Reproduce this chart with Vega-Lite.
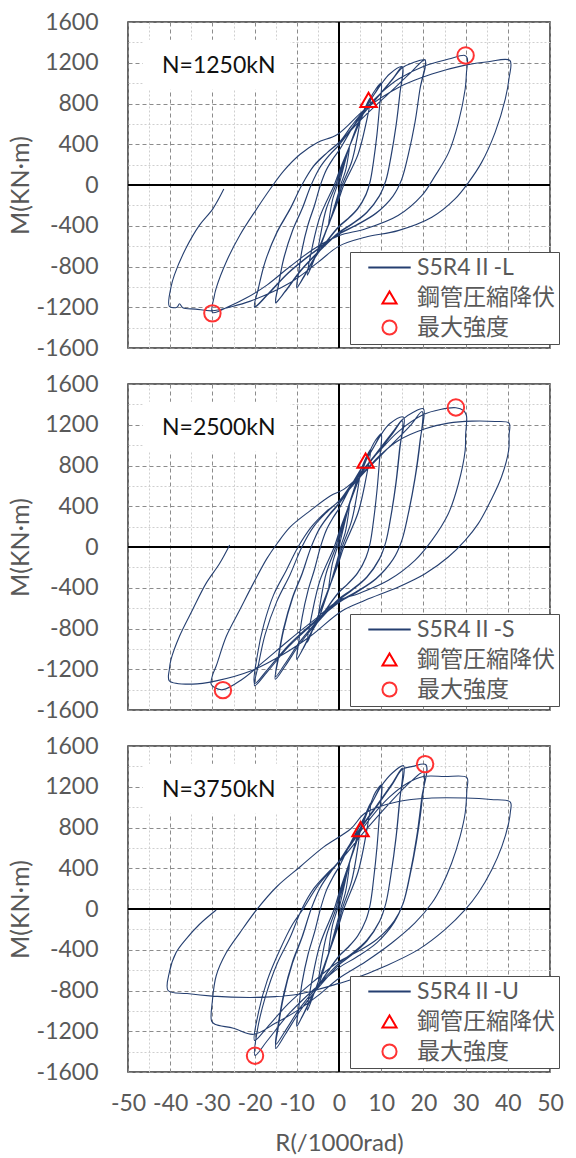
{
"$schema":"https://vega.github.io/schema/vega-lite/v6.json",
"padding":{"left":7,"top":10,"right":0,"bottom":2},
"config":{"view":{"stroke":"#333333","strokeWidth":1.5},"font":"Lato"},
"datasets":{
"p1":[{"x":0,"y":0},{"x":1.2,"y":190},{"x":2.5,"y":380},{"x":2.13,"y":266},{"x":1.5,"y":133},{"x":0.38,"y":0},{"x":0,"y":-60},{"x":-1,"y":-200},{"x":-1.88,"y":-320},{"x":-2.5,"y":-400},{"x":-2.13,"y":-280},{"x":-1.5,"y":-140},{"x":-0.38,"y":0},{"x":0,"y":57},{"x":1,"y":190},{"x":1.88,"y":304},{"x":2.5,"y":380},{"x":3.8,"y":530},{"x":5,"y":650},{"x":4.25,"y":455},{"x":3,"y":228},{"x":0.75,"y":0},{"x":0,"y":-99},{"x":-2,"y":-330},{"x":-3.75,"y":-528},{"x":-5,"y":-660},{"x":-4.25,"y":-462},{"x":-3,"y":-231},{"x":-0.75,"y":0},{"x":0,"y":98},{"x":2,"y":325},{"x":3.75,"y":520},{"x":5,"y":650},{"x":4.25,"y":450},{"x":3,"y":225},{"x":0.75,"y":0},{"x":0,"y":-100},{"x":-2,"y":-335},{"x":-3.75,"y":-530},{"x":-5,"y":-665},{"x":-4.25,"y":-465},{"x":-3,"y":-233},{"x":-0.75,"y":0},{"x":0,"y":97},{"x":2,"y":322},{"x":3.75,"y":518},{"x":5,"y":648},{"x":6.3,"y":770},{"x":7.5,"y":860},{"x":6.38,"y":602},{"x":4.5,"y":301},{"x":1.13,"y":0},{"x":0,"y":-132},{"x":-3,"y":-440},{"x":-5.63,"y":-704},{"x":-7.5,"y":-880},{"x":-6.38,"y":-616},{"x":-4.5,"y":-308},{"x":-1.13,"y":0},{"x":0,"y":129},{"x":3,"y":430},{"x":5.63,"y":688},{"x":7.5,"y":860},{"x":6.38,"y":598},{"x":4.5,"y":298},{"x":1.13,"y":0},{"x":0,"y":-134},{"x":-3,"y":-445},{"x":-5.63,"y":-708},{"x":-7.5,"y":-885},{"x":-6.38,"y":-620},{"x":-4.5,"y":-310},{"x":-1.13,"y":0},{"x":0,"y":127},{"x":3,"y":428},{"x":5.63,"y":686},{"x":7.5,"y":858},{"x":8.7,"y":940},{"x":10,"y":1000},{"x":9.6,"y":770},{"x":9,"y":500},{"x":8.2,"y":240},{"x":7.4,"y":40},{"x":6.4,"y":-91},{"x":4.4,"y":-232},{"x":2,"y":-333},{"x":0,"y":-404},{"x":-3,"y":-556},{"x":-6,"y":-727},{"x":-8.5,"y":-909},{"x":-10,"y":-1010},{"x":-9.55,"y":-859},{"x":-8.75,"y":-636},{"x":-7.35,"y":-394},{"x":-5.8,"y":-202},{"x":-4.4,"y":0},{"x":-3,"y":150},{"x":-1.4,"y":260},{"x":0,"y":340},{"x":3,"y":550},{"x":6,"y":740},{"x":8.5,"y":900},{"x":10,"y":995},{"x":9.6,"y":765},{"x":9,"y":495},{"x":8.2,"y":235},{"x":7.4,"y":35},{"x":6.4,"y":-95},{"x":4.4,"y":-236},{"x":2,"y":-338},{"x":0,"y":-410},{"x":-3,"y":-562},{"x":-6,"y":-733},{"x":-8.5,"y":-915},{"x":-10,"y":-1005},{"x":-9.55,"y":-855},{"x":-8.75,"y":-632},{"x":-7.35,"y":-390},{"x":-5.8,"y":-198},{"x":-4.4,"y":0},{"x":-3,"y":148},{"x":-1.4,"y":258},{"x":0,"y":338},{"x":3,"y":548},{"x":6,"y":738},{"x":8.5,"y":898},{"x":10,"y":990},{"x":12,"y":1090},{"x":15,"y":1160},{"x":14.4,"y":893},{"x":13.5,"y":580},{"x":12.3,"y":278},{"x":11.1,"y":46},{"x":9.6,"y":-104},{"x":6.6,"y":-266},{"x":3,"y":-382},{"x":0,"y":-463},{"x":-4.5,"y":-637},{"x":-9,"y":-834},{"x":-12.75,"y":-1042},{"x":-15,"y":-1158},{"x":-14.33,"y":-984},{"x":-13.13,"y":-730},{"x":-11.03,"y":-452},{"x":-8.7,"y":-232},{"x":-6.6,"y":0},{"x":-4.5,"y":174},{"x":-2.1,"y":302},{"x":0,"y":394},{"x":4.5,"y":638},{"x":9,"y":858},{"x":12.75,"y":1044},{"x":15,"y":1160},{"x":14.4,"y":885},{"x":13.5,"y":575},{"x":12.3,"y":272},{"x":11.1,"y":40},{"x":9.6,"y":-108},{"x":6.6,"y":-270},{"x":3,"y":-388},{"x":0,"y":-470},{"x":-4.5,"y":-645},{"x":-9,"y":-840},{"x":-12.75,"y":-1048},{"x":-15,"y":-1150},{"x":-14.33,"y":-978},{"x":-13.13,"y":-725},{"x":-11.03,"y":-448},{"x":-8.7,"y":-228},{"x":-6.6,"y":0},{"x":-4.5,"y":172},{"x":-2.1,"y":300},{"x":0,"y":392},{"x":4.5,"y":635},{"x":9,"y":855},{"x":12.75,"y":1040},{"x":15,"y":1150},{"x":17.5,"y":1200},{"x":20.4,"y":1225},{"x":19.2,"y":943},{"x":18,"y":613},{"x":16.4,"y":294},{"x":14.8,"y":49},{"x":12.8,"y":-108},{"x":8.8,"y":-275},{"x":4,"y":-394},{"x":0,"y":-478},{"x":-6,"y":-657},{"x":-12,"y":-860},{"x":-17,"y":-1076},{"x":-20,"y":-1195},{"x":-19.1,"y":-1016},{"x":-17.5,"y":-753},{"x":-14.7,"y":-466},{"x":-11.6,"y":-239},{"x":-8.8,"y":0},{"x":-6,"y":184},{"x":-2.8,"y":318},{"x":0,"y":417},{"x":6,"y":674},{"x":12,"y":907},{"x":17,"y":1103},{"x":20.4,"y":1230},{"x":19.2,"y":946},{"x":18,"y":615},{"x":16.4,"y":295},{"x":14.8,"y":50},{"x":12.8,"y":-110},{"x":8.8,"y":-278},{"x":4,"y":-398},{"x":0,"y":-482},{"x":-6,"y":-662},{"x":-12,"y":-865},{"x":-17,"y":-1082},{"x":-20,"y":-1200},{"x":-19.1,"y":-1012},{"x":-17.5,"y":-753},{"x":-14.7,"y":-461},{"x":-11.6,"y":-234},{"x":-8.8,"y":0},{"x":-6,"y":188},{"x":-2.8,"y":318},{"x":0,"y":415},{"x":3,"y":582},{"x":6.2,"y":745},{"x":10.1,"y":909},{"x":14.1,"y":1040},{"x":20.4,"y":1170},{"x":26,"y":1236},{"x":29.8,"y":1272},{"x":30.4,"y":1245},{"x":30.2,"y":1100},{"x":29.9,"y":942},{"x":28.3,"y":615},{"x":26,"y":320},{"x":22.8,"y":92},{"x":19.6,"y":-105},{"x":14,"y":-300},{"x":6.2,"y":-432},{"x":0,"y":-497},{"x":-5.7,"y":-620},{"x":-11.6,"y":-800},{"x":-17,"y":-980},{"x":-22,"y":-1110},{"x":-26,"y":-1190},{"x":-30,"y":-1250},{"x":-29.6,"y":-1100},{"x":-29.1,"y":-1012},{"x":-26.7,"y":-753},{"x":-23.5,"y":-493},{"x":-19.5,"y":-234},{"x":-16.3,"y":-39},{"x":-13.1,"y":139},{"x":-9.2,"y":302},{"x":-5.2,"y":415},{"x":-0.4,"y":496},{"x":6.2,"y":745},{"x":14.1,"y":958},{"x":22,"y":1089},{"x":29.9,"y":1177},{"x":35.4,"y":1210},{"x":40.5,"y":1222},{"x":40.3,"y":1050},{"x":39.4,"y":844},{"x":37,"y":517},{"x":33.8,"y":222},{"x":30.7,"y":26},{"x":27.5,"y":-137},{"x":22,"y":-317},{"x":14,"y":-448},{"x":6.2,"y":-513},{"x":0,"y":-600},{"x":-5,"y":-760},{"x":-11.6,"y":-960},{"x":-21,"y":-1140},{"x":-26,"y":-1200},{"x":-30,"y":-1235},{"x":-34,"y":-1218},{"x":-37,"y":-1205},{"x":-37.8,"y":-1165},{"x":-38.4,"y":-1200},{"x":-40.2,"y":-1192},{"x":-39.8,"y":-1000},{"x":-39,"y":-882},{"x":-36.3,"y":-623},{"x":-33.1,"y":-396},{"x":-29.9,"y":-234},{"x":-27.3,"y":-40}],
"p2":[{"x":0,"y":0},{"x":1.2,"y":210},{"x":2.5,"y":420},{"x":2.13,"y":294},{"x":1.5,"y":147},{"x":0.38,"y":0},{"x":0,"y":-65},{"x":-1,"y":-215},{"x":-1.88,"y":-344},{"x":-2.5,"y":-430},{"x":-2.13,"y":-301},{"x":-1.5,"y":-151},{"x":-0.38,"y":0},{"x":0,"y":63},{"x":1,"y":210},{"x":1.88,"y":336},{"x":2.5,"y":420},{"x":3.8,"y":590},{"x":5,"y":740},{"x":4.25,"y":518},{"x":3,"y":259},{"x":0.75,"y":0},{"x":0,"y":-108},{"x":-2,"y":-360},{"x":-3.75,"y":-576},{"x":-5,"y":-720},{"x":-4.25,"y":-504},{"x":-3,"y":-252},{"x":-0.75,"y":0},{"x":0,"y":111},{"x":2,"y":370},{"x":3.75,"y":592},{"x":5,"y":740},{"x":4.25,"y":514},{"x":3,"y":256},{"x":0.75,"y":0},{"x":0,"y":-110},{"x":-2,"y":-364},{"x":-3.75,"y":-580},{"x":-5,"y":-725},{"x":-4.25,"y":-508},{"x":-3,"y":-254},{"x":-0.75,"y":0},{"x":0,"y":110},{"x":2,"y":368},{"x":3.75,"y":590},{"x":5,"y":738},{"x":6.3,"y":870},{"x":7.5,"y":960},{"x":6.38,"y":672},{"x":4.5,"y":336},{"x":1.13,"y":0},{"x":0,"y":-140},{"x":-3,"y":-465},{"x":-5.63,"y":-744},{"x":-7.5,"y":-930},{"x":-6.38,"y":-651},{"x":-4.5,"y":-326},{"x":-1.13,"y":0},{"x":0,"y":144},{"x":3,"y":480},{"x":5.63,"y":768},{"x":7.5,"y":960},{"x":6.38,"y":668},{"x":4.5,"y":333},{"x":1.13,"y":0},{"x":0,"y":-142},{"x":-3,"y":-470},{"x":-5.63,"y":-748},{"x":-7.5,"y":-935},{"x":-6.38,"y":-655},{"x":-4.5,"y":-328},{"x":-1.13,"y":0},{"x":0,"y":142},{"x":3,"y":478},{"x":5.63,"y":765},{"x":7.5,"y":958},{"x":8.7,"y":1050},{"x":10,"y":1112},{"x":9.6,"y":856},{"x":9,"y":556},{"x":8.2,"y":267},{"x":7.4,"y":44},{"x":6.4,"y":-99},{"x":4.4,"y":-254},{"x":2,"y":-364},{"x":0,"y":-441},{"x":-3,"y":-607},{"x":-6,"y":-794},{"x":-8.5,"y":-993},{"x":-10,"y":-1103},{"x":-9.55,"y":-938},{"x":-8.75,"y":-695},{"x":-7.35,"y":-430},{"x":-5.8,"y":-221},{"x":-4.4,"y":0},{"x":-3,"y":167},{"x":-1.4,"y":289},{"x":0,"y":378},{"x":3,"y":612},{"x":6,"y":823},{"x":8.5,"y":1001},{"x":10,"y":1108},{"x":9.6,"y":850},{"x":9,"y":552},{"x":8.2,"y":262},{"x":7.4,"y":40},{"x":6.4,"y":-103},{"x":4.4,"y":-258},{"x":2,"y":-368},{"x":0,"y":-446},{"x":-3,"y":-612},{"x":-6,"y":-800},{"x":-8.5,"y":-998},{"x":-10,"y":-1098},{"x":-9.55,"y":-934},{"x":-8.75,"y":-692},{"x":-7.35,"y":-428},{"x":-5.8,"y":-218},{"x":-4.4,"y":0},{"x":-3,"y":165},{"x":-1.4,"y":287},{"x":0,"y":376},{"x":3,"y":610},{"x":6,"y":820},{"x":8.5,"y":998},{"x":10,"y":1105},{"x":12,"y":1210},{"x":15.3,"y":1275},{"x":14.4,"y":982},{"x":13.5,"y":638},{"x":12.3,"y":306},{"x":11.1,"y":51},{"x":9.6,"y":-117},{"x":6.6,"y":-299},{"x":3,"y":-428},{"x":0,"y":-519},{"x":-4.5,"y":-714},{"x":-9,"y":-935},{"x":-12.75,"y":-1168},{"x":-15.1,"y":-1298},{"x":-14.4,"y":-1103},{"x":-13.13,"y":-818},{"x":-11.03,"y":-506},{"x":-8.7,"y":-260},{"x":-6.6,"y":0},{"x":-4.5,"y":186},{"x":-2.1,"y":322},{"x":0,"y":422},{"x":4.5,"y":682},{"x":9,"y":918},{"x":12.75,"y":1116},{"x":15,"y":1240},{"x":14.4,"y":955},{"x":13.5,"y":620},{"x":12.3,"y":298},{"x":11.1,"y":50},{"x":9.6,"y":-114},{"x":6.6,"y":-292},{"x":3,"y":-419},{"x":0,"y":-508},{"x":-4.5,"y":-699},{"x":-9,"y":-914},{"x":-12.75,"y":-1143},{"x":-15,"y":-1270},{"x":-14.4,"y":-1080},{"x":-13.13,"y":-800},{"x":-11.03,"y":-495},{"x":-8.7,"y":-254},{"x":-6.6,"y":0},{"x":-4.5,"y":190},{"x":-2.1,"y":330},{"x":0,"y":430},{"x":4.5,"y":690},{"x":9,"y":930},{"x":12.75,"y":1130},{"x":15,"y":1250},{"x":17.5,"y":1320},{"x":20,"y":1357},{"x":19.2,"y":1045},{"x":18,"y":679},{"x":16.4,"y":326},{"x":14.8,"y":54},{"x":12.8,"y":-123},{"x":8.8,"y":-313},{"x":4,"y":-449},{"x":0,"y":-545},{"x":-6,"y":-749},{"x":-12,"y":-981},{"x":-17,"y":-1226},{"x":-20,"y":-1362},{"x":-19.1,"y":-1158},{"x":-17.5,"y":-858},{"x":-14.7,"y":-531},{"x":-11.6,"y":-272},{"x":-8.8,"y":0},{"x":-6,"y":200},{"x":-2.8,"y":346},{"x":0,"y":452},{"x":6,"y":732},{"x":12,"y":985},{"x":17,"y":1197},{"x":19.7,"y":1330},{"x":19.2,"y":1024},{"x":18,"y":665},{"x":16.4,"y":319},{"x":14.8,"y":53},{"x":12.8,"y":-121},{"x":8.8,"y":-308},{"x":4,"y":-442},{"x":0,"y":-536},{"x":-6,"y":-737},{"x":-12,"y":-965},{"x":-17,"y":-1206},{"x":-20,"y":-1340},{"x":-19.3,"y":-1050},{"x":-17.8,"y":-760},{"x":-15.5,"y":-470},{"x":-12.5,"y":-230},{"x":-9.7,"y":0},{"x":-6.5,"y":200},{"x":-3,"y":350},{"x":0,"y":450},{"x":3,"y":620},{"x":6.3,"y":790},{"x":10,"y":960},{"x":14,"y":1130},{"x":20,"y":1300},{"x":24,"y":1350},{"x":27.7,"y":1367},{"x":29.5,"y":1340},{"x":30.2,"y":1290},{"x":30,"y":1100},{"x":29.9,"y":948},{"x":28.3,"y":621},{"x":25.9,"y":327},{"x":22,"y":65},{"x":18,"y":-131},{"x":11.7,"y":-327},{"x":4.6,"y":-458},{"x":0,"y":-523},{"x":-6,"y":-720},{"x":-12,"y":-920},{"x":-18,"y":-1130},{"x":-23,"y":-1300},{"x":-27.5,"y":-1400},{"x":-29.5,"y":-1380},{"x":-30.3,"y":-1346},{"x":-29.9,"y":-1250},{"x":-29.1,"y":-1168},{"x":-26.7,"y":-876},{"x":-23.5,"y":-616},{"x":-20.3,"y":-357},{"x":-17.1,"y":-114},{"x":-14.7,"y":32},{"x":-11.6,"y":195},{"x":-6.8,"y":357},{"x":-2,"y":503},{"x":1.2,"y":568},{"x":6.2,"y":752},{"x":10.1,"y":916},{"x":14.1,"y":1046},{"x":20.4,"y":1161},{"x":25.9,"y":1216},{"x":31.5,"y":1236},{"x":37,"y":1232},{"x":40.3,"y":1215},{"x":40.3,"y":1100},{"x":40.2,"y":948},{"x":38.5,"y":687},{"x":36,"y":458},{"x":33,"y":229},{"x":29.9,"y":65},{"x":25.9,"y":-98},{"x":20.4,"y":-262},{"x":14.1,"y":-392},{"x":6.2,"y":-523},{"x":0.6,"y":-630},{"x":-6.8,"y":-876},{"x":-13.1,"y":-1050},{"x":-21.1,"y":-1220},{"x":-29.1,"y":-1314},{"x":-34.7,"y":-1346},{"x":-40.2,"y":-1314},{"x":-40.2,"y":-1200},{"x":-39.8,"y":-1103},{"x":-37.8,"y":-876},{"x":-34.7,"y":-616},{"x":-31.5,"y":-357},{"x":-28.3,"y":-162},{"x":-25.9,"y":20}],
"p3":[{"x":0,"y":0},{"x":1.2,"y":220},{"x":2.5,"y":450},{"x":2.13,"y":315},{"x":1.5,"y":158},{"x":0.38,"y":0},{"x":0,"y":-66},{"x":-1,"y":-220},{"x":-1.88,"y":-352},{"x":-2.5,"y":-440},{"x":-2.13,"y":-308},{"x":-1.5,"y":-154},{"x":-0.38,"y":0},{"x":0,"y":68},{"x":1,"y":225},{"x":1.88,"y":360},{"x":2.5,"y":450},{"x":3.8,"y":640},{"x":5,"y":790},{"x":4.25,"y":553},{"x":3,"y":277},{"x":0.75,"y":0},{"x":0,"y":-114},{"x":-2,"y":-380},{"x":-3.75,"y":-608},{"x":-5,"y":-760},{"x":-4.25,"y":-532},{"x":-3,"y":-266},{"x":-0.75,"y":0},{"x":0,"y":119},{"x":2,"y":395},{"x":3.75,"y":632},{"x":5,"y":790},{"x":4.25,"y":549},{"x":3,"y":273},{"x":0.75,"y":0},{"x":0,"y":-116},{"x":-2,"y":-384},{"x":-3.75,"y":-612},{"x":-5,"y":-765},{"x":-4.25,"y":-536},{"x":-3,"y":-268},{"x":-0.75,"y":0},{"x":0,"y":117},{"x":2,"y":392},{"x":3.75,"y":628},{"x":5,"y":786},{"x":6.3,"y":930},{"x":7.5,"y":1040},{"x":6.38,"y":728},{"x":4.5,"y":364},{"x":1.13,"y":0},{"x":0,"y":-149},{"x":-3,"y":-495},{"x":-5.63,"y":-792},{"x":-7.5,"y":-990},{"x":-6.38,"y":-693},{"x":-4.5,"y":-347},{"x":-1.13,"y":0},{"x":0,"y":156},{"x":3,"y":520},{"x":5.63,"y":832},{"x":7.5,"y":1040},{"x":6.38,"y":724},{"x":4.5,"y":360},{"x":1.13,"y":0},{"x":0,"y":-151},{"x":-3,"y":-500},{"x":-5.63,"y":-796},{"x":-7.5,"y":-995},{"x":-6.38,"y":-697},{"x":-4.5,"y":-349},{"x":-1.13,"y":0},{"x":0,"y":154},{"x":3,"y":516},{"x":5.63,"y":828},{"x":7.5,"y":1035},{"x":8.7,"y":1150},{"x":10.1,"y":1220},{"x":9.6,"y":939},{"x":9,"y":610},{"x":8.2,"y":293},{"x":7.4,"y":49},{"x":6.4,"y":-104},{"x":4.4,"y":-265},{"x":2,"y":-380},{"x":0,"y":-460},{"x":-3,"y":-633},{"x":-6,"y":-828},{"x":-8.5,"y":-1035},{"x":-10,"y":-1150},{"x":-9.55,"y":-978},{"x":-8.75,"y":-725},{"x":-7.35,"y":-449},{"x":-5.8,"y":-230},{"x":-4.4,"y":0},{"x":-3,"y":183},{"x":-1.4,"y":317},{"x":0,"y":415},{"x":3,"y":671},{"x":6,"y":903},{"x":8.5,"y":1098},{"x":10,"y":1210},{"x":9.6,"y":930},{"x":9,"y":604},{"x":8.2,"y":289},{"x":7.4,"y":46},{"x":6.4,"y":-106},{"x":4.4,"y":-268},{"x":2,"y":-384},{"x":0,"y":-465},{"x":-3,"y":-638},{"x":-6,"y":-833},{"x":-8.5,"y":-1040},{"x":-10,"y":-1145},{"x":-9.55,"y":-973},{"x":-8.75,"y":-720},{"x":-7.35,"y":-446},{"x":-5.8,"y":-228},{"x":-4.4,"y":0},{"x":-3,"y":180},{"x":-1.4,"y":314},{"x":0,"y":412},{"x":3,"y":668},{"x":6,"y":900},{"x":8.5,"y":1094},{"x":10,"y":1205},{"x":12.5,"y":1330},{"x":15.3,"y":1406},{"x":14.4,"y":1083},{"x":13.5,"y":703},{"x":12.3,"y":337},{"x":11.1,"y":56},{"x":9.6,"y":-123},{"x":6.6,"y":-315},{"x":3,"y":-452},{"x":0,"y":-548},{"x":-4.5,"y":-753},{"x":-9,"y":-986},{"x":-12.75,"y":-1232},{"x":-15,"y":-1369},{"x":-14.4,"y":-1164},{"x":-13.13,"y":-862},{"x":-11.03,"y":-534},{"x":-8.7,"y":-274},{"x":-6.6,"y":0},{"x":-4.5,"y":207},{"x":-2.1,"y":359},{"x":0,"y":469},{"x":4.5,"y":759},{"x":9,"y":1021},{"x":12.75,"y":1242},{"x":15,"y":1380},{"x":14.4,"y":1063},{"x":13.5,"y":690},{"x":12.3,"y":331},{"x":11.1,"y":55},{"x":9.6,"y":-120},{"x":6.6,"y":-306},{"x":3,"y":-439},{"x":0,"y":-532},{"x":-4.5,"y":-732},{"x":-9,"y":-958},{"x":-12.75,"y":-1197},{"x":-15,"y":-1330},{"x":-14.4,"y":-1130},{"x":-13.13,"y":-838},{"x":-11.03,"y":-519},{"x":-8.7,"y":-266},{"x":-6.6,"y":0},{"x":-4.5,"y":205},{"x":-2.1,"y":355},{"x":0,"y":464},{"x":4.5,"y":750},{"x":9,"y":1010},{"x":12.75,"y":1230},{"x":15,"y":1370},{"x":17.5,"y":1400},{"x":20.6,"y":1416},{"x":19.6,"y":1090},{"x":18.4,"y":708},{"x":16.8,"y":340},{"x":15.2,"y":57},{"x":13.1,"y":-129},{"x":9,"y":-330},{"x":4.1,"y":-474},{"x":0,"y":-575},{"x":-6,"y":-790},{"x":-12,"y":-1035},{"x":-17,"y":-1293},{"x":-19.9,"y":-1437},{"x":-19.3,"y":-1180},{"x":-17.5,"y":-870},{"x":-14.7,"y":-540},{"x":-11.6,"y":-280},{"x":-8.8,"y":0},{"x":-6,"y":200},{"x":-2.8,"y":350},{"x":0,"y":460},{"x":6,"y":760},{"x":12,"y":1040},{"x":17,"y":1250},{"x":20,"y":1341},{"x":19.6,"y":1030},{"x":18.4,"y":670},{"x":16.8,"y":322},{"x":15.2,"y":54},{"x":13.1,"y":-116},{"x":9,"y":-297},{"x":4.1,"y":-426},{"x":0,"y":-516},{"x":-6,"y":-710},{"x":-12,"y":-929},{"x":-17,"y":-1161},{"x":-20,"y":-1290},{"x":-19,"y":-1000},{"x":-17,"y":-700},{"x":-14,"y":-400},{"x":-11,"y":-150},{"x":-8.5,"y":0},{"x":-5,"y":230},{"x":0,"y":470},{"x":4,"y":700},{"x":8,"y":920},{"x":12,"y":1100},{"x":16,"y":1230},{"x":20,"y":1300},{"x":25,"y":1300},{"x":30.3,"y":1290},{"x":30.3,"y":1171},{"x":29.9,"y":942},{"x":28.7,"y":713},{"x":26.7,"y":451},{"x":24.3,"y":222},{"x":22,"y":59},{"x":18,"y":-137},{"x":12.5,"y":-334},{"x":6.2,"y":-520},{"x":0,"y":-680},{"x":-5,"y":-850},{"x":-10,"y":-1000},{"x":-15,"y":-1120},{"x":-20.3,"y":-1230},{"x":-25,"y":-1170},{"x":-29.4,"y":-1132},{"x":-30.2,"y":-1100},{"x":-30,"y":-900},{"x":-29.1,"y":-655},{"x":-26.7,"y":-428},{"x":-23.5,"y":-234},{"x":-19.5,"y":-6},{"x":-14.7,"y":221},{"x":-9.2,"y":415},{"x":-3.6,"y":610},{"x":2.8,"y":788},{"x":6.2,"y":942},{"x":14.1,"y":1056},{"x":22,"y":1089},{"x":29.9,"y":1089},{"x":36,"y":1075},{"x":40.6,"y":1050},{"x":40.6,"y":950},{"x":40.2,"y":844},{"x":38.6,"y":615},{"x":36.2,"y":386},{"x":33,"y":157},{"x":29.9,"y":-7},{"x":25.1,"y":-203},{"x":18.8,"y":-399},{"x":10.9,"y":-562},{"x":3,"y":-693},{"x":0,"y":-730},{"x":-5,"y":-790},{"x":-10,"y":-840},{"x":-15,"y":-860},{"x":-21.1,"y":-868},{"x":-30,"y":-855},{"x":-36,"y":-830},{"x":-40.5,"y":-800},{"x":-40.2,"y":-623},{"x":-38.6,"y":-428},{"x":-36.3,"y":-298},{"x":-33.1,"y":-152},{"x":-29.1,"y":-10}],
"m1":[{"x":7,"y":835,"k":"鋼管圧縮降伏"},{"x":30,"y":1272,"k":"最大強度"},{"x":-30,"y":-1260,"k":"最大強度"}],
"m2":[{"x":6.3,"y":848,"k":"鋼管圧縮降伏"},{"x":27.7,"y":1370,"k":"最大強度"},{"x":-27.5,"y":-1405,"k":"最大強度"}],
"m3":[{"x":5.1,"y":785,"k":"鋼管圧縮降伏"},{"x":20.4,"y":1422,"k":"最大強度"},{"x":-19.9,"y":-1440,"k":"最大強度"}]
},
"spacing":36,
"bounds":"flush",
"resolve":{"scale":{"color":"independent","shape":"independent"},"legend":{"color":"independent","shape":"independent"}},
"vconcat":[
{"width":422,"height":326,"resolve":{"axis":{"x":"independent","y":"independent"}},
"layer":[
{"data":{"values":[{}]},"mark":{"type":"rect","fill":"#ffffff"},"encoding":{"x":{"datum":-46.5,"type":"quantitative","axis":null},"x2":{"datum":-11.5},"y":{"datum":1425,"type":"quantitative","axis":null},"y2":{"datum":935}}},
{"data":{"values":[{}]},"mark":{"type":"rule","color":"#000000","strokeWidth":2},"encoding":{"x":{"datum":0,"type":"quantitative","axis":null}}},
{"data":{"values":[{}]},"mark":{"type":"rule","color":"#000000","strokeWidth":2},"encoding":{"y":{"datum":0,"type":"quantitative","axis":null}}},
{"data":{"name":"p1"},"mark":{"type":"line","color":"#253F70","strokeWidth":1.1,"interpolate":"catmull-rom"},"encoding":{
"x":{"field":"x","type":"quantitative","scale":{"domain":[-50,50],"nice":false,"zero":false},"axis":{"orient":"bottom","values":[-50,-40,-30,-20,-10,0,10,20,30,40,50],"grid":true,"gridColor":"#8c8c8c","gridDash":[4,3],"gridWidth":1,"labels":false,"ticks":false,"domain":false,"title":null}},
"y":{"field":"y","type":"quantitative","scale":{"domain":[-1600,1600],"nice":false,"zero":false},"axis":{"orient":"left","values":[-1600,-1200,-800,-400,0,400,800,1200,1600],"grid":true,"gridColor":"#8c8c8c","gridDash":[4,3],"gridWidth":1,"ticks":false,"domain":false,"labelExpr":"toString(datum.value)","labelFont":"Lato","labelFontSize":23,"labelColor":"#595959","labelPadding":30,"labelFlush":false,"labelOverlap":false,"title":"M(KN·m)","titleFont":"Lato","titleFontSize":25,"titleFontWeight":"normal","titleColor":"#595959","titlePadding":3}},
"order":{"value":null}}},
{"data":{"name":"m1"},"mark":{"type":"point","filled":false,"strokeWidth":2,"size":270,"opacity":1},"encoding":{
"x":{"field":"x","type":"quantitative","axis":{"orient":"bottom","values":[-45,-35,-25,-15,-5,5,15,25,35,45],"grid":true,"gridColor":"#cfcfcf","gridDash":[2,2],"gridWidth":1,"labels":false,"ticks":false,"domain":false,"title":null}},
"y":{"field":"y","type":"quantitative","axis":{"orient":"left","values":[-1400,-1000,-600,-200,200,600,1000,1400],"grid":true,"gridColor":"#cfcfcf","gridDash":[2,2],"gridWidth":1,"labels":false,"ticks":false,"domain":false,"title":null}},
"color":{"field":"k","type":"nominal","scale":{"domain":["S5R4Ⅱ-L","鋼管圧縮降伏","最大強度"],"range":["#253F70","#FF0000","#FF3333"]},"legend":{"title":null,"orient":"none","legendX":222,"legendY":230,"fillColor":"#ffffff","strokeColor":"#4d4d4d","padding":4,"symbolOffset":24,"symbolSize":200,"symbolStrokeWidth":2,"labelFont":"Lato, Noto Sans CJK JP","labelFontSize":23,"labelColor":"#595959","labelOffset":16,"rowPadding":6,"labelLimit":400}},
"shape":{"field":"k","type":"nominal","scale":{"domain":["S5R4Ⅱ-L","鋼管圧縮降伏","最大強度"],"range":["M-3,0H3","triangle-up","circle"]},"legend":{"title":null,"orient":"none","legendX":222,"legendY":230,"fillColor":"#ffffff","strokeColor":"#4d4d4d","padding":4,"symbolOffset":24,"symbolSize":200,"symbolStrokeWidth":2,"labelFont":"Lato, Noto Sans CJK JP","labelFontSize":23,"labelColor":"#595959","labelOffset":16,"rowPadding":6,"labelLimit":400}}}},
{"data":{"values":[{}]},"mark":{"type":"text","text":"N=1250kN","fontSize":23,"font":"Lato","color":"#111111"},"encoding":{"x":{"datum":-28.5,"type":"quantitative","axis":null},"y":{"datum":1167,"type":"quantitative","axis":null}}}
]},
{"width":422,"height":326,"resolve":{"axis":{"x":"independent","y":"independent"}},
"layer":[
{"data":{"values":[{}]},"mark":{"type":"rect","fill":"#ffffff"},"encoding":{"x":{"datum":-46.5,"type":"quantitative","axis":null},"x2":{"datum":-11.5},"y":{"datum":1425,"type":"quantitative","axis":null},"y2":{"datum":935}}},
{"data":{"values":[{}]},"mark":{"type":"rule","color":"#000000","strokeWidth":2},"encoding":{"x":{"datum":0,"type":"quantitative","axis":null}}},
{"data":{"values":[{}]},"mark":{"type":"rule","color":"#000000","strokeWidth":2},"encoding":{"y":{"datum":0,"type":"quantitative","axis":null}}},
{"data":{"name":"p2"},"mark":{"type":"line","color":"#253F70","strokeWidth":1.1,"interpolate":"catmull-rom"},"encoding":{
"x":{"field":"x","type":"quantitative","scale":{"domain":[-50,50],"nice":false,"zero":false},"axis":{"orient":"bottom","values":[-50,-40,-30,-20,-10,0,10,20,30,40,50],"grid":true,"gridColor":"#8c8c8c","gridDash":[4,3],"gridWidth":1,"labels":false,"ticks":false,"domain":false,"title":null}},
"y":{"field":"y","type":"quantitative","scale":{"domain":[-1600,1600],"nice":false,"zero":false},"axis":{"orient":"left","values":[-1600,-1200,-800,-400,0,400,800,1200,1600],"grid":true,"gridColor":"#8c8c8c","gridDash":[4,3],"gridWidth":1,"ticks":false,"domain":false,"labelExpr":"toString(datum.value)","labelFont":"Lato","labelFontSize":23,"labelColor":"#595959","labelPadding":30,"labelFlush":false,"labelOverlap":false,"title":"M(KN·m)","titleFont":"Lato","titleFontSize":25,"titleFontWeight":"normal","titleColor":"#595959","titlePadding":3}},
"order":{"value":null}}},
{"data":{"name":"m2"},"mark":{"type":"point","filled":false,"strokeWidth":2,"size":270,"opacity":1},"encoding":{
"x":{"field":"x","type":"quantitative","axis":{"orient":"bottom","values":[-45,-35,-25,-15,-5,5,15,25,35,45],"grid":true,"gridColor":"#cfcfcf","gridDash":[2,2],"gridWidth":1,"labels":false,"ticks":false,"domain":false,"title":null}},
"y":{"field":"y","type":"quantitative","axis":{"orient":"left","values":[-1400,-1000,-600,-200,200,600,1000,1400],"grid":true,"gridColor":"#cfcfcf","gridDash":[2,2],"gridWidth":1,"labels":false,"ticks":false,"domain":false,"title":null}},
"color":{"field":"k","type":"nominal","scale":{"domain":["S5R4Ⅱ-S","鋼管圧縮降伏","最大強度"],"range":["#253F70","#FF0000","#FF3333"]},"legend":{"title":null,"orient":"none","legendX":222,"legendY":230,"fillColor":"#ffffff","strokeColor":"#4d4d4d","padding":4,"symbolOffset":24,"symbolSize":200,"symbolStrokeWidth":2,"labelFont":"Lato, Noto Sans CJK JP","labelFontSize":23,"labelColor":"#595959","labelOffset":16,"rowPadding":6,"labelLimit":400}},
"shape":{"field":"k","type":"nominal","scale":{"domain":["S5R4Ⅱ-S","鋼管圧縮降伏","最大強度"],"range":["M-3,0H3","triangle-up","circle"]},"legend":{"title":null,"orient":"none","legendX":222,"legendY":230,"fillColor":"#ffffff","strokeColor":"#4d4d4d","padding":4,"symbolOffset":24,"symbolSize":200,"symbolStrokeWidth":2,"labelFont":"Lato, Noto Sans CJK JP","labelFontSize":23,"labelColor":"#595959","labelOffset":16,"rowPadding":6,"labelLimit":400}}}},
{"data":{"values":[{}]},"mark":{"type":"text","text":"N=2500kN","fontSize":23,"font":"Lato","color":"#111111"},"encoding":{"x":{"datum":-28.5,"type":"quantitative","axis":null},"y":{"datum":1167,"type":"quantitative","axis":null}}}
]},
{"width":422,"height":326,"resolve":{"axis":{"x":"independent","y":"independent"}},
"layer":[
{"data":{"values":[{}]},"mark":{"type":"rect","fill":"#ffffff"},"encoding":{"x":{"datum":-46.5,"type":"quantitative","axis":null},"x2":{"datum":-11.5},"y":{"datum":1425,"type":"quantitative","axis":null},"y2":{"datum":935}}},
{"data":{"values":[{}]},"mark":{"type":"rule","color":"#000000","strokeWidth":2},"encoding":{"x":{"datum":0,"type":"quantitative","axis":null}}},
{"data":{"values":[{}]},"mark":{"type":"rule","color":"#000000","strokeWidth":2},"encoding":{"y":{"datum":0,"type":"quantitative","axis":null}}},
{"data":{"name":"p3"},"mark":{"type":"line","color":"#253F70","strokeWidth":1.1,"interpolate":"catmull-rom"},"encoding":{
"x":{"field":"x","type":"quantitative","scale":{"domain":[-50,50],"nice":false,"zero":false},"axis":{"orient":"bottom","values":[-50,-40,-30,-20,-10,0,10,20,30,40,50],"grid":true,"gridColor":"#8c8c8c","gridDash":[4,3],"gridWidth":1,"ticks":false,"domain":false,"labelExpr":"toString(datum.value)","labelFont":"Lato","labelFontSize":23,"labelColor":"#595959","labelPadding":20,"labelFlush":false,"labelOverlap":false,"title":"R(/1000rad)","titleFont":"Lato","titleFontSize":24,"titleFontWeight":"normal","titleColor":"#595959","titlePadding":16}},
"y":{"field":"y","type":"quantitative","scale":{"domain":[-1600,1600],"nice":false,"zero":false},"axis":{"orient":"left","values":[-1600,-1200,-800,-400,0,400,800,1200,1600],"grid":true,"gridColor":"#8c8c8c","gridDash":[4,3],"gridWidth":1,"ticks":false,"domain":false,"labelExpr":"toString(datum.value)","labelFont":"Lato","labelFontSize":23,"labelColor":"#595959","labelPadding":30,"labelFlush":false,"labelOverlap":false,"title":"M(KN·m)","titleFont":"Lato","titleFontSize":25,"titleFontWeight":"normal","titleColor":"#595959","titlePadding":3}},
"order":{"value":null}}},
{"data":{"name":"m3"},"mark":{"type":"point","filled":false,"strokeWidth":2,"size":270,"opacity":1},"encoding":{
"x":{"field":"x","type":"quantitative","axis":{"orient":"bottom","values":[-45,-35,-25,-15,-5,5,15,25,35,45],"grid":true,"gridColor":"#cfcfcf","gridDash":[2,2],"gridWidth":1,"labels":false,"ticks":false,"domain":false,"title":null}},
"y":{"field":"y","type":"quantitative","axis":{"orient":"left","values":[-1400,-1000,-600,-200,200,600,1000,1400],"grid":true,"gridColor":"#cfcfcf","gridDash":[2,2],"gridWidth":1,"labels":false,"ticks":false,"domain":false,"title":null}},
"color":{"field":"k","type":"nominal","scale":{"domain":["S5R4Ⅱ-U","鋼管圧縮降伏","最大強度"],"range":["#253F70","#FF0000","#FF3333"]},"legend":{"title":null,"orient":"none","legendX":222,"legendY":230,"fillColor":"#ffffff","strokeColor":"#4d4d4d","padding":4,"symbolOffset":24,"symbolSize":200,"symbolStrokeWidth":2,"labelFont":"Lato, Noto Sans CJK JP","labelFontSize":23,"labelColor":"#595959","labelOffset":16,"rowPadding":6,"labelLimit":400}},
"shape":{"field":"k","type":"nominal","scale":{"domain":["S5R4Ⅱ-U","鋼管圧縮降伏","最大強度"],"range":["M-3,0H3","triangle-up","circle"]},"legend":{"title":null,"orient":"none","legendX":222,"legendY":230,"fillColor":"#ffffff","strokeColor":"#4d4d4d","padding":4,"symbolOffset":24,"symbolSize":200,"symbolStrokeWidth":2,"labelFont":"Lato, Noto Sans CJK JP","labelFontSize":23,"labelColor":"#595959","labelOffset":16,"rowPadding":6,"labelLimit":400}}}},
{"data":{"values":[{}]},"mark":{"type":"text","text":"N=3750kN","fontSize":23,"font":"Lato","color":"#111111"},"encoding":{"x":{"datum":-28.5,"type":"quantitative","axis":null},"y":{"datum":1167,"type":"quantitative","axis":null}}}
]}
]
}
